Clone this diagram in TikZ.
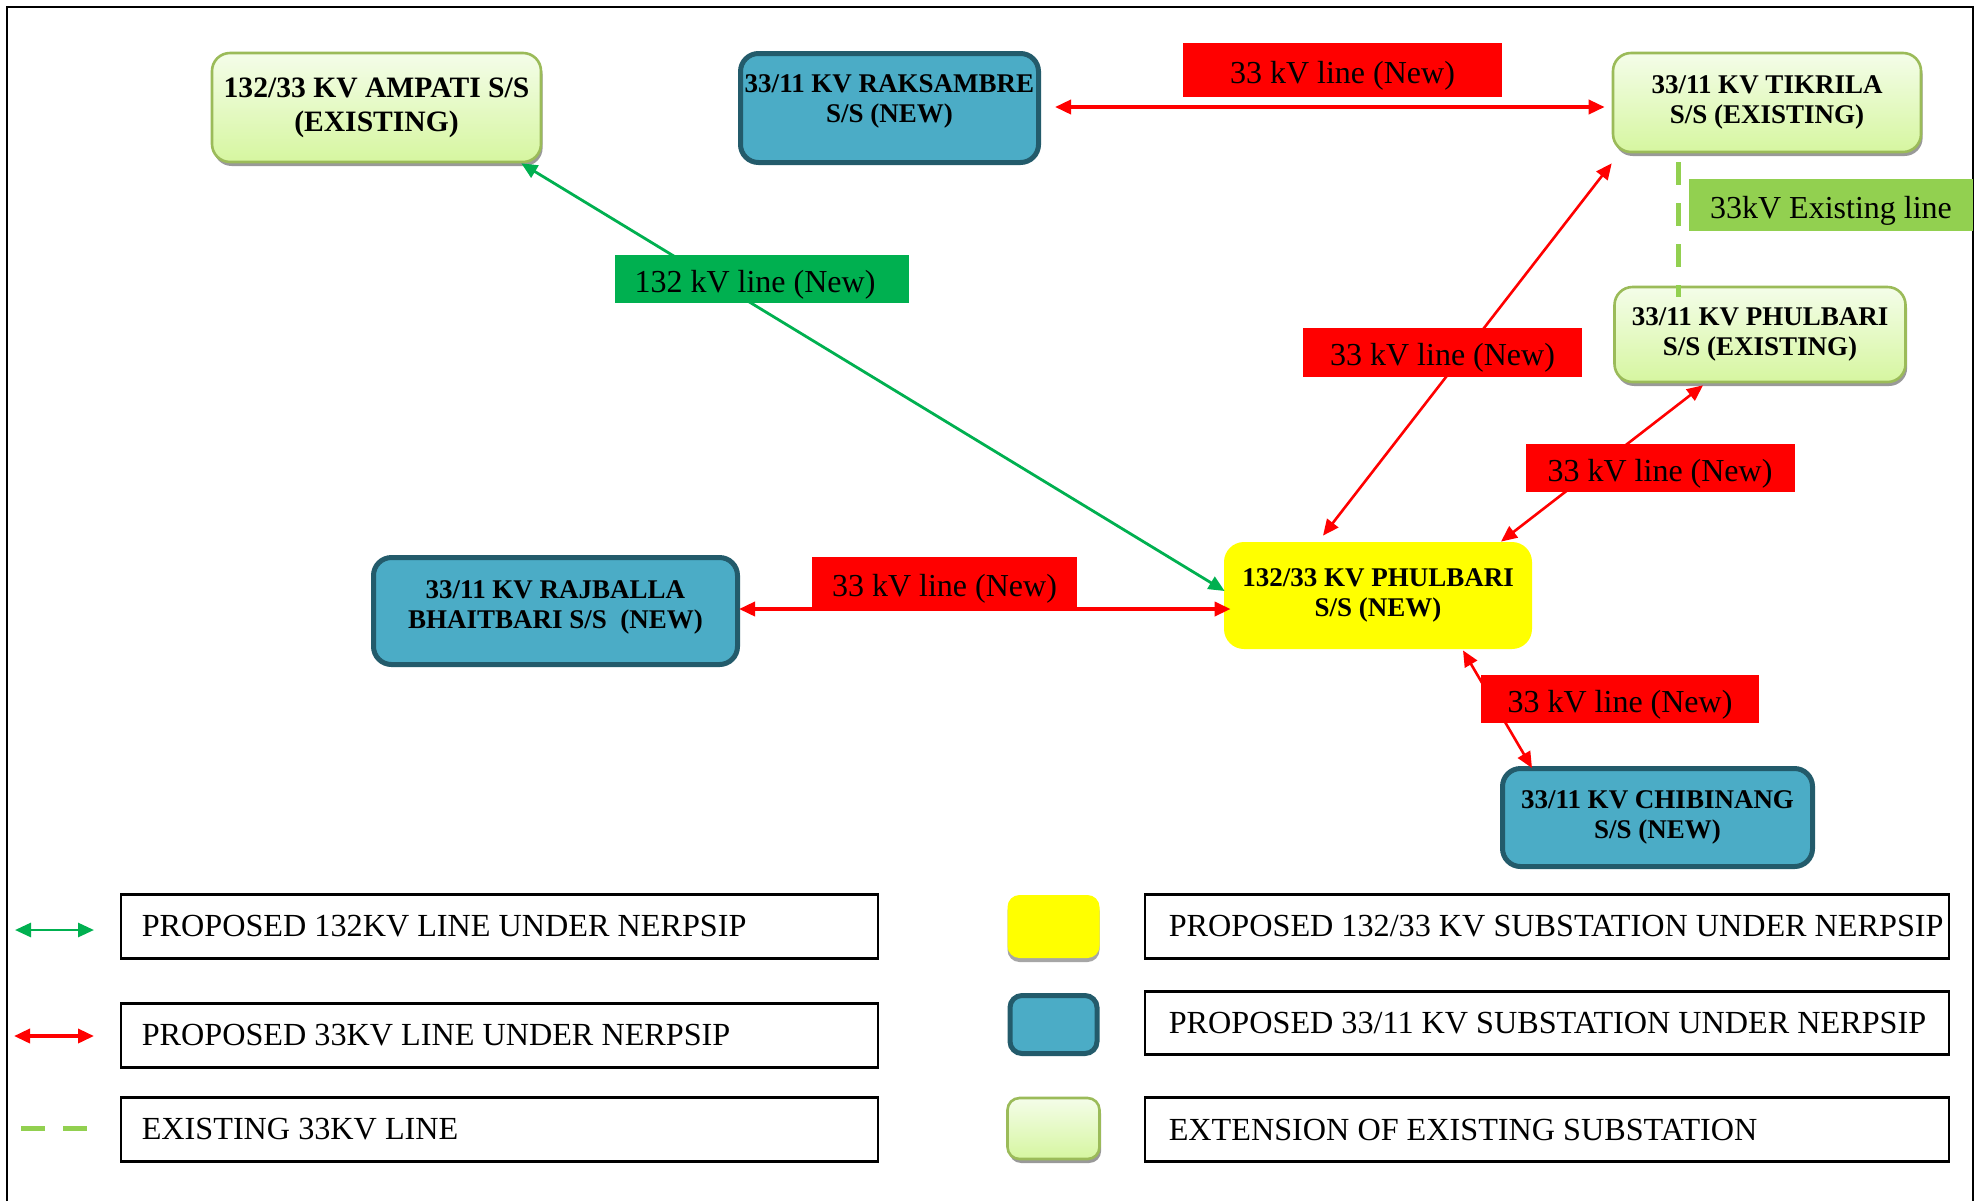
\documentclass[tikz,border=0pt]{standalone}
\usepackage{fontspec}
\setmainfont{Liberation Serif}
\usetikzlibrary{arrows.meta,calc,shadows}
\definecolor{exborder}{HTML}{9BBB59}
\definecolor{extop}{HTML}{F4FDE9}
\definecolor{exbot}{HTML}{D6F6A0}
\definecolor{ssfill}{HTML}{4BACC6}
\definecolor{ssedge}{HTML}{235B6B}
\definecolor{linegreen}{HTML}{00B050}
\definecolor{oldgreen}{HTML}{92D050}
\definecolor{hubyellow}{HTML}{FFFF00}
\definecolor{linered}{HTML}{FF0000}

\tikzset{
  mytri/.tip={Triangle[length=8pt, width=7pt]},
  boxfont/.style={font=\fontsize{13.5}{15}\selectfont\bfseries},
  existss/.style={draw=exborder, line width=1.3pt, rounded corners=9pt,
    top color=extop, bottom color=exbot, align=center, inner sep=0pt, boxfont,
    drop shadow={shadow xshift=0.8pt, shadow yshift=-2pt, fill=black!40, opacity=1}},
  newss/.style={draw=ssedge, line width=2.5pt, fill=ssfill, rounded corners=9pt,
    align=center, inner sep=0pt, boxfont},
  hubss/.style={fill=hubyellow, rounded corners=10pt, align=center, inner sep=0pt, boxfont},
  tag/.style={inner sep=0pt, text height=1.5em, text depth=0.2em,
    font=\fontsize{16}{18}\selectfont},
  redtag/.style={tag, fill=linered},
  greentag/.style={tag, fill=linegreen},
  oldtag/.style={tag, fill=oldgreen},
  redline/.style={draw=linered, line width=1.3pt, mytri-mytri},
  redthick/.style={draw=linered, line width=1.8pt, mytri-mytri},
  greenline/.style={draw=linegreen, line width=1.4pt, mytri-mytri},
  oldline/.style={draw=oldgreen, line width=2.5pt, dash pattern=on 11.5pt off 9pt},
  legbox/.style={draw=black, line width=0.6pt, inner sep=0pt, minimum height=31.5pt},
  legtext/.style={anchor=west, inner sep=0pt, font=\fontsize{16.1}{18}\selectfont},
  legedge/.style={draw=black, line width=1.6pt},
  swatch/.style={minimum width=46pt, inner sep=0pt}
}

\begin{document}
\begin{tikzpicture}[x=0.5pt, y=-0.5pt]
  \useasboundingbox (0,0) rectangle (1980,1201);
  \fill[white] (0,0) rectangle (1980,1201);

  % outer frame
  \draw[line width=1pt] (7,1201) -- (7,7) -- (1973,7) -- (1973,1201);

  % substations
  \node[existss, minimum width=164.5pt, minimum height=54.5pt,
        font=\fontsize{14.8}{17}\selectfont\bfseries] (ampati) at (376.5,107.5)
        {132/33 KV AMPATI S/S\\(EXISTING)};
  \node[newss, minimum width=149pt, minimum height=54.5pt, text depth=9pt] (raks) at (889.5,108)
        {33/11 KV RAKSAMBRE\\S/S (NEW)};
  \node[existss, minimum width=154pt, minimum height=49.5pt] (tik) at (1767,102.5)
        {33/11 KV TIKRILA\\S/S (EXISTING)};
  \node[existss, minimum width=145.5pt, minimum height=47.5pt] (pex) at (1760,334.5)
        {33/11 KV PHULBARI\\S/S (EXISTING)};
  \node[hubss, minimum width=154pt, minimum height=53.5pt] (hub) at (1378,595.5)
        {132/33 KV PHULBARI\\S/S (NEW)};
  \node[newss, minimum width=182pt, minimum height=53.5pt, text depth=6pt] (raj) at (555.5,611)
        {33/11 KV RAJBALLA\\BHAITBARI S/S\ \ (NEW)};
  \node[newss, minimum width=155pt, minimum height=49pt] (chib) at (1657.5,817.5)
        {33/11 KV CHIBINANG\\S/S (NEW)};

  % lines between substations
  \draw[redthick] ($(raks.east)+(14,-1)$) -- ($(tik.west)+(-7,4.5)$);
  \draw[greenline] ($(ampati.south east)+(-21,0)$) -- ($(hub.west)+(1,-4.5)$);
  \draw[redthick] ($(raj.east)+(-1,-2)$) -- ($(hub.west)+(7,13.5)$);
  \draw[redline] ($(tik.south west)+(0,10)$) -- ($(hub.north)+(-55,-6)$);
  \draw[redline] ($(pex.south)+(-57,2)$) -- ($(hub.north)+(123,0)$);
  \draw[redline] ($(hub.south)+(85,1)$) -- ($(chib.north)+(-125.5,2)$);
  \draw[oldline] ($(tik.south)+(-89,9)$) -- ($(pex.north)+(-82,11)$);

  % line labels
  \node[redtag, minimum width=159.5pt, minimum height=27pt] (lab1) at (1342.5,70) {33 kV line (New)};
  \node[oldtag, minimum width=142pt, minimum height=26pt] (lab2) at (1831,205) {33kV Existing line};
  \node[greentag, minimum width=147pt, minimum height=24pt] (lab3) at (762,279) {132 kV line (New)\kern7pt\null};
  \node[redtag, minimum width=139.5pt, minimum height=24.5pt] (lab4) at (1442.5,352.5) {33 kV line (New)};
  \node[redtag, minimum width=134.5pt, minimum height=24pt] (lab5) at (1660,468) {33 kV line (New)};
  \node[redtag, minimum width=132.5pt, minimum height=26pt] (lab6) at (944.5,583) {33 kV line (New)};
  \node[redtag, minimum width=139pt, minimum height=24pt] (lab7) at (1620,699) {33 kV line (New)};

  % legend: line symbols
  \coordinate (g1) at (15,930);  \coordinate (g2) at (94,930);
  \coordinate (r1) at (14,1036); \coordinate (r2) at (94,1036);
  \coordinate (d1) at (21,1128); \coordinate (d2) at (87,1128);
  \draw[greenline] (g1) -- (g2);
  \draw[redthick] (r1) -- (r2);
  \draw[draw=oldgreen, line width=2.5pt, dash pattern=on 12pt off 9pt] (d1) -- (d2);

  % legend: text boxes
  \node[legbox, minimum width=378.5pt] (lk1) at (499.5,926.5) {};
  \node[legbox, minimum width=378.5pt] (lk2) at (499.5,1035.5) {};
  \node[legbox, minimum width=378.5pt] (lk3) at (499.5,1129.5) {};
  \node[legbox, minimum width=402pt] (lk4) at (1547,926.5) {};
  \node[legbox, minimum width=402pt, minimum height=31pt] (lk5) at (1547,1023) {};
  \node[legbox, minimum width=402pt] (lk6) at (1547,1129.5) {};
  \foreach \k in {lk1,lk2,lk3,lk4,lk5,lk6} {
    \draw[legedge] (\k.north west) -- (\k.north east);
    \draw[legedge] (\k.south west) -- (\k.south east);
  }
  \node[legtext] (lt1) at ($(lk1.west)+(21,0)$) {PROPOSED 132KV LINE UNDER NERPSIP};
  \node[legtext] (lt2) at ($(lk2.west)+(21,0)$) {PROPOSED 33KV LINE UNDER NERPSIP};
  \node[legtext] (lt3) at ($(lk3.west)+(21,0)$) {EXISTING 33KV LINE};
  \node[legtext] (lt4) at ($(lk4.west)+(24,0)$) {PROPOSED 132/33 KV SUBSTATION UNDER NERPSIP};
  \node[legtext] (lt5) at ($(lk5.west)+(24,0)$) {PROPOSED 33/11 KV SUBSTATION UNDER NERPSIP};
  \node[legtext] (lt6) at ($(lk6.west)+(24,0)$) {EXTENSION OF EXISTING SUBSTATION};

  % legend: substation swatches
  \node[swatch, hubss, minimum height=31.5pt, rounded corners=6pt,
        drop shadow={shadow xshift=0pt, shadow yshift=-2pt, fill=black!35, opacity=1}] (sw1) at (1053.5,926.5) {};
  \node[swatch, newss, minimum width=43.5pt, minimum height=29pt, rounded corners=6pt] (sw2) at (1053.5,1024.5) {};
  \node[swatch, existss, minimum height=30.5pt, rounded corners=6pt] (sw3) at (1053.5,1128.5) {};
\end{tikzpicture}
\end{document}
